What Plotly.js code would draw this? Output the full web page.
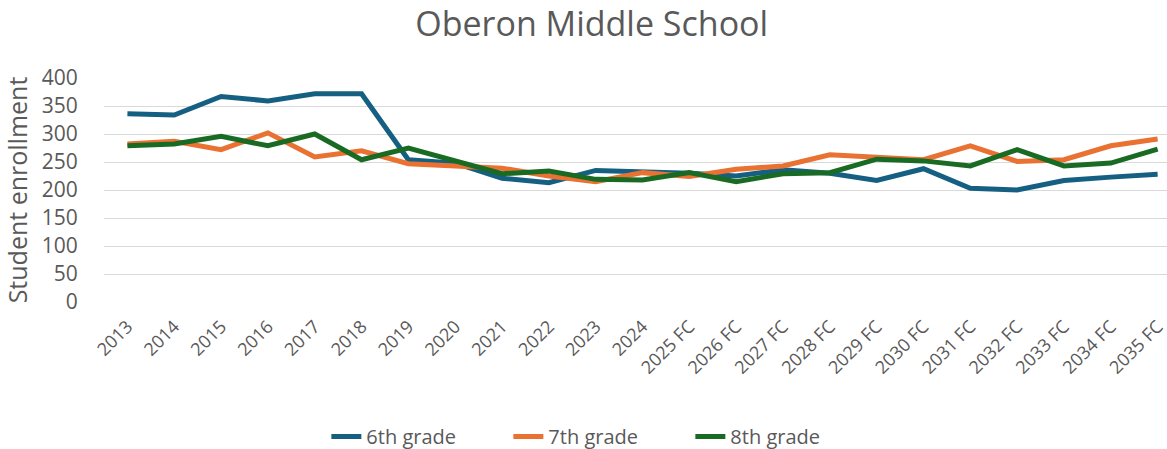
<!DOCTYPE html>
<html>
<head>
<meta charset="utf-8">
<script src="https://cdn.plot.ly/plotly-3.0.1.min.js"></script>
<style>html,body{margin:0;padding:0;background:#fff;}#chart{width:1167px;height:449px;}</style>
</head>
<body>
<div id="chart"></div>
<script>
var categories = ["2013","2014","2015","2016","2017","2018","2019","2020","2021","2022","2023","2024",
  "2025 FC","2026 FC","2027 FC","2028 FC","2029 FC","2030 FC","2031 FC","2032 FC","2033 FC","2034 FC","2035 FC"];
var grade6 = [336,334,367,359,372,372,254,248,221,213,235,233,230,225,236,230,217,238,203,200,217,223,228];
var grade7 = [282,287,272,302,259,270,247,242,239,225,215,231,224,237,243,263,259,254,279,251,254,279,291];
var grade8 = [279,282,296,279,300,254,275,252,229,234,219,218,231,215,229,231,255,252,243,272,243,248,273];
var seriesNames = ["6th grade","7th grade","8th grade"];
var colors = ["#156082","#E97132","#196B24"];
var yTicks = [0,50,100,150,200,250,300,350,400];

var FONT = "Open Sans, Liberation Sans, sans-serif";
var data = [grade6, grade7, grade8].map(function(vals, i){
  return {
    type: "scatter", mode: "lines", x: categories, y: vals, name: seriesNames[i],
    line: {color: colors[i], width: 5, shape: "linear"},
    hoverinfo: "x+y+name"
  };
});

var layout = {
  width: 1167, height: 449,
  margin: {l: 104, r: 0, t: 78, b: 147, pad: 0, autoexpand: false},
  paper_bgcolor: "#ffffff", plot_bgcolor: "#ffffff",
  title: {text: "Oberon Middle School", x: 0.507, xref: "container", xanchor: "center", y: 0.947, yref: "container", yanchor: "middle",
    font: {family: FONT, size: 34, color: "#595959"}},
  showlegend: true,
  legend: {orientation: "h", x: 0.466, xanchor: "center", y: -0.6, yanchor: "middle", entrywidth: 137,
    font: {family: FONT, size: 20, color: "#595959"}, bgcolor: "rgba(0,0,0,0)"},
  xaxis: {type: "category", range: [-0.5, 22.2], tickangle: -45, showgrid: false, zeroline: false,
    showline: false, ticks: "outside", ticklen: 6, tickcolor: "rgba(0,0,0,0)",
    tickfont: {family: FONT, size: 18, color: "#595959"}, fixedrange: true},
  yaxis: {range: [0, 400], tickvals: yTicks, ticktext: yTicks.map(String), showgrid: true, gridcolor: "#d9d9d9", gridwidth: 1,
    zeroline: false, showline: false, ticks: "outside", ticklen: 21, tickcolor: "rgba(0,0,0,0)",
    tickfont: {family: FONT, size: 21, color: "#595959"},
    title: {text: "Student enrollment", font: {family: FONT, size: 25, color: "#595959"}, standoff: 8}, fixedrange: true}
};

Plotly.newPlot("chart", data, layout, {displayModeBar: false, staticPlot: false});
</script>
</body>
</html>
